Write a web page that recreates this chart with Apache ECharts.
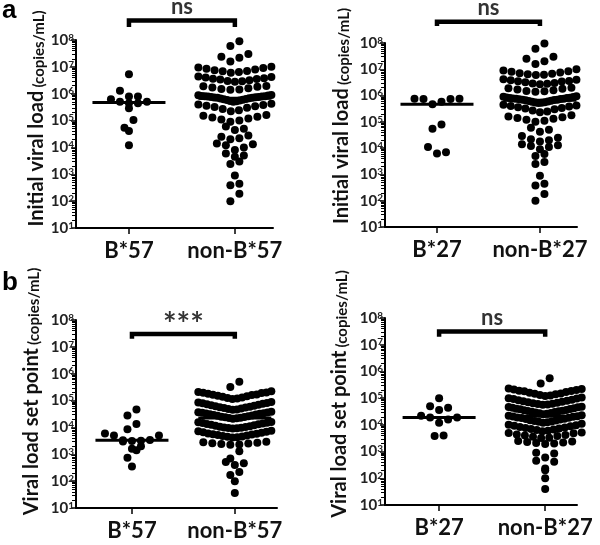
<!DOCTYPE html>
<html>
<head>
<meta charset="utf-8">
<script src="https://cdn.jsdelivr.net/npm/echarts@6/dist/echarts.min.js"></script>
<style>
  html, body { margin: 0; background: #fff; }
  #main { width: 600px; height: 545px; }
</style>
</head>
<body>
<div id="main"></div>
<script>
// ---- data (copies/mL) ----
const initialB57 = [5.3e6, 1.3e6, 7.8e5, 7.8e5, 6.2e5, 5e5, 5e5, 4.4e5, 4.4e5, 2.9e5, 1.05e5, 5.4e4, 4.1e4, 1.2e4];
const initialNonB57 = [
  9e7, 6e7,
  3e7, 2.4e7, 2.2e7, 1.6e7,
  1e7, 9.5e6, 9e6, 8.5e6, 8e6, 7.5e6, 7e6, 6.8e6, 6.5e6, 6e6,
  4.4e6, 4.2e6, 4e6, 3.8e6, 3.6e6, 3.5e6, 3.4e6, 3.2e6, 3e6, 2.9e6, 2.8e6,
  1.95e6, 1.9e6, 1.8e6, 1.7e6, 1.6e6, 1.5e6, 1.45e6, 1.4e6,
  9e5, 8.8e5, 8.5e5, 8.2e5, 8e5, 8e5, 7.8e5, 7.8e5, 7.6e5, 7.5e5, 7.4e5, 7.2e5,
  7e5, 7e5, 6.8e5, 6.6e5, 6.4e5, 6.2e5, 6e5, 5.8e5, 5.6e5, 5.4e5, 5.2e5, 5e5,
  4.2e5, 4e5, 3.8e5, 3.6e5, 3.4e5, 3.2e5, 3e5, 2.7e5, 2.4e5, 2.2e5,
  1.6e5, 1.5e5, 1.4e5, 1.3e5, 1.2e5, 1.1e5, 1e5, 9e4,
  6e4, 5e4, 4.5e4,
  2.8e4, 2.5e4, 2.2e4, 2e4,
  1.4e4, 1.3e4, 1.2e4, 1e4, 8e3,
  6e3, 5e3, 4.5e3,
  3e3, 2.4e3,
  9e2,
  4.4e2, 3.9e2,
  1.9e2, 1e2
];
const initialB27 = [7.6e5, 7.6e5, 7.4e5, 7.4e5, 5.8e5, 4.7e5, 8e4, 5.5e4, 1.1e4, 7e3, 6.2e3];
const initialNonB27 = [
  9.5e7, 6e7,
  3e7, 2.5e7, 2e7, 1.6e7,
  1e7, 9e6, 8.5e6, 8e6, 7.5e6, 7e6, 6.8e6, 6.5e6, 6.2e6, 6e6,
  4.2e6, 4e6, 3.8e6, 3.6e6, 3.5e6, 3.4e6, 3.2e6, 3e6, 2.9e6, 2.8e6, 2.7e6,
  2e6, 1.9e6, 1.8e6, 1.7e6, 1.6e6, 1.5e6, 1.45e6, 1.4e6,
  9.5e5, 9e5, 8.8e5, 8.5e5, 8.2e5, 8e5, 8e5, 7.8e5, 7.6e5, 7.5e5, 7.4e5, 7.2e5,
  7e5, 7e5, 6.8e5, 6.6e5, 6.4e5, 6.2e5, 6e5, 5.8e5, 5.6e5, 5.4e5, 5.3e5, 5.2e5,
  4.5e5, 4.2e5, 4e5, 3.8e5, 3.6e5, 3.4e5, 3.2e5, 3e5, 2.7e5, 2.5e5, 2.3e5,
  1.8e5, 1.6e5, 1.5e5, 1.4e5, 1.3e5, 1.2e5, 1.1e5, 1e5,
  6e4, 5e4, 4.2e4,
  2.9e4, 2.5e4, 2.2e4, 2e4, 1.8e4,
  1.4e4, 1.3e4, 1.2e4, 1.1e4, 9e3,
  6e3, 5e3,
  3e3, 2.5e3,
  9e2,
  4.4e2, 3.8e2,
  1.8e2, 1e2
];
const setPointB57 = [4.7e4, 2.8e4, 1.35e4, 8.5e3, 6e3, 5e3, 5e3, 3.4e3, 3.3e3, 3.2e3, 3.1e3, 3e3, 2e3, 1.6e3, 1.4e3, 7.5e2, 3.5e2];
const setPointNonB57 = [
  5e5, 3.2e5,
  2.2e5, 2.1e5, 2e5, 1.95e5, 1.9e5, 1.8e5, 1.7e5, 1.65e5, 1.6e5, 1.5e5, 1.45e5, 1.4e5, 1.3e5, 1.25e5, 1.2e5, 1.15e5,
  8.9e4, 8.5e4, 8.2e4, 8e4, 7.6e4, 7.3e4, 7e4, 6.7e4, 6.4e4, 6.1e4, 5.9e4, 5.7e4, 5.5e4, 5.3e4, 5.1e4, 4.9e4, 4.7e4, 4.6e4,
  3.8e4, 3.7e4, 3.6e4, 3.5e4, 3.4e4, 3.3e4, 3.2e4, 3.1e4, 3e4, 2.9e4, 2.8e4, 2.7e4, 2.6e4, 2.5e4, 2.45e4, 2.4e4, 2.3e4, 2.25e4, 2.2e4, 2.1e4,
  1.6e4, 1.55e4, 1.5e4, 1.45e4, 1.4e4, 1.35e4, 1.3e4, 1.25e4, 1.2e4, 1.15e4, 1.1e4, 1.07e4, 1.04e4, 1e4, 9.8e3, 9.6e3, 9.4e3, 9.2e3,
  7.6e3, 7.2e3, 6.9e3, 6.6e3, 6.3e3, 6e3, 5.8e3, 5.6e3, 5.4e3, 5.2e3, 5e3, 4.8e3, 4.6e3, 4.5e3, 4.3e3, 4.2e3,
  2.9e3, 2.8e3, 2.7e3, 2.6e3, 2.5e3, 2.4e3, 2.3e3, 2.25e3,
  1.3e3, 7e2, 5.2e2, 4.6e2, 4e2, 2.2e2, 1.7e2, 1e2, 36
];
const setPointB27 = [1e5, 5e4, 4.4e4, 3.6e4, 2.2e4, 1.9e4, 1.9e4, 1.6e4, 1.2e4, 4e3, 3.8e3];
const setPointNonB27 = [
  5.6e5, 3.5e5,
  2.3e5, 2.2e5, 2.1e5, 2e5, 1.9e5, 1.85e5, 1.8e5, 1.7e5, 1.6e5, 1.5e5, 1.45e5, 1.4e5, 1.3e5, 1.25e5, 1.2e5,
  1.05e5, 1e5, 9.6e4, 9.2e4, 8.8e4, 8.4e4, 8e4, 7.6e4, 7.3e4, 7e4, 6.7e4, 6.4e4, 6.2e4, 6e4, 5.8e4, 5.6e4,
  4.8e4, 4.7e4, 4.6e4, 4.4e4, 4.2e4, 4e4, 3.9e4, 3.8e4, 3.6e4, 3.5e4, 3.4e4, 3.3e4, 3.2e4, 3.1e4, 3e4, 2.9e4, 2.8e4, 2.7e4, 2.6e4, 2.5e4,
  2.3e4, 2.2e4, 2.1e4, 2.05e4, 2e4, 1.9e4, 1.85e4, 1.8e4, 1.7e4, 1.65e4, 1.6e4, 1.5e4, 1.45e4, 1.4e4, 1.35e4, 1.3e4, 1.25e4, 1.2e4,
  1.1e4, 1e4, 9.6e3, 9.2e3, 8.8e3, 8.4e3, 8e3, 7.6e3, 7.3e3, 7e3, 6.7e3, 6.4e3, 6e3, 5.8e3,
  5.2e3, 5e3, 4.8e3, 4.4e3, 4.2e3, 4e3, 3.8e3, 3.6e3, 3.3e3, 3.2e3,
  2.5e3, 2.4e3, 2.3e3, 2.2e3, 2.1e3, 2e3, 1.9e3,
  9e2, 8.5e2, 6e2, 4.5e2, 4.2e2, 2.3e2, 2e2, 1e2, 40
];
const yTicks = [1e1, 1e2, 1e3, 1e4, 1e5, 1e6, 1e7, 1e8];
const significance = ['ns', 'ns', '***', 'ns'];

// ---- layout ----
const DOT = 8, STEP = 9, HALF_W = 36.5, ROW_DEC = 0.3;
const FONT = 'Lato';

const panels = [
  { cats: ['B*57', 'non-B*57'], values: [initialB57, initialNonB57], title: 'Initial viral load',
    grid: { left: 76, top: 40, width: 197, height: 188 }, xMin: 0.5, xMax: 2.36,
    bracket: [3.05e8, 5.3e8], nameGap: 29, namePad: 31 },
  { cats: ['B*27', 'non-B*27'], values: [initialB27, initialNonB27], title: 'Initial viral load',
    grid: { left: 385, top: 43, width: 192, height: 184 }, xMin: 0.495, xMax: 2.36,
    bracket: [4.4e8, 6.5e8], nameGap: 33, namePad: 38 },
  { cats: ['B*57', 'non-B*57'], values: [setPointB57, setPointNonB57], title: 'Viral load set point',
    grid: { left: 76, top: 320, width: 201, height: 188 }, xMin: 0.456, xMax: 2.41,
    bracket: [2e7, 3e7], nameGap: 34, namePad: 45 },
  { cats: ['B*27', 'non-B*27'], values: [setPointB27, setPointNonB27], title: 'Viral load set point',
    grid: { left: 385, top: 318, width: 192, height: 187 }, xMin: 0.49, xMax: 2.3,
    bracket: [2e7, 3.1e7], nameGap: 35, namePad: 35 }
];

const minorTicks = [];
for (let d = 1; d < 8; d++) {
  for (let m = 2; m <= 9; m++) minorTicks.push(m * Math.pow(10, d));
}

// group values into rows and spread each row around the centre (low values in the middle)
function swarm(values, center, unitPx) {
  const sorted = values.slice().sort((a, b) => b - a);
  const rows = [];
  let row = null;
  sorted.forEach(v => {
    if (!row || Math.log10(row[0]) - Math.log10(v) > ROW_DEC) {
      row = [];
      rows.push(row);
    }
    row.push(v);
  });
  const pts = [];
  rows.forEach(r => {
    const n = r.length;
    const step = n > 1 ? Math.min(STEP, 2 * HALF_W / (n - 1)) : 0;
    r.slice().sort((a, b) => a - b).forEach((v, i) => {
      let k;
      if (n % 2) k = i === 0 ? 0 : (i % 2 ? 1 : -1) * Math.ceil(i / 2);
      else k = (i % 2 ? 1 : -1) * (Math.floor(i / 2) + 0.5);
      pts.push([center + k * step / unitPx, v]);
    });
  });
  return pts;
}

function median(values) {
  const s = values.slice().sort((a, b) => a - b);
  const h = Math.floor(s.length / 2);
  return s.length % 2 ? s[h] : (s[h - 1] + s[h]) / 2;
}

const series = [];
panels.forEach((p, i) => {
  const unitPx = p.grid.width / (p.xMax - p.xMin);
  const pts = [];
  p.values.forEach((vals, g) => pts.push(...swarm(vals, g + 1, unitPx)));
  series.push({
    type: 'scatter', xAxisIndex: i, yAxisIndex: i, data: pts, symbolSize: DOT,
    itemStyle: { color: '#000', opacity: 1, borderWidth: 0 }, clip: false, z: 2, silent: true
  });
  const hw = HALF_W / unitPx;
  p.values.forEach((vals, g) => {
    const m = median(vals);
    series.push({
      type: 'line', xAxisIndex: i, yAxisIndex: i,
      data: [[g + 1 - hw, m], [g + 1 + hw, m]],
      symbol: 'none', lineStyle: { color: '#000', width: 3 }, z: 3, silent: true
    });
  });
  const [lo, hi] = p.bracket;
  const stars = significance[i] === '***';
  series.push({
    type: 'line', xAxisIndex: i, yAxisIndex: i,
    data: [[1, lo], [1, hi], [2, hi], [2, lo]],
    symbol: 'none', clip: false, lineStyle: { color: '#000', width: 4.5, join: 'miter' }, z: 3, silent: true
  });
  series.push({
    type: 'scatter', xAxisIndex: i, yAxisIndex: i, data: [[1.5, hi]],
    symbolSize: 1, itemStyle: { color: 'rgba(0,0,0,0)' }, clip: false, silent: true,
    label: {
      show: true, position: 'top', distance: stars ? -8 : 2, formatter: significance[i],
      fontFamily: FONT, fontWeight: 'bold', fontSize: stars ? 32 : 22, color: '#000'
    }
  });
});

// each panel gets a twin grid carrying the minor log ticks and the axis title
const grids = panels.map(p => Object.assign({ outerBoundsMode: 'none' }, p.grid));
const option = {
  animation: false,
  textStyle: { fontFamily: FONT },
  grid: grids.concat(grids.map(g => Object.assign({}, g))),
  xAxis: panels.map((p, i) => ({
    type: 'value', gridIndex: i, min: p.xMin, max: p.xMax,
    axisLine: { show: true, onZero: false, lineStyle: { color: '#000', width: 2 } },
    axisTick: { show: true, customValues: [1, 2], length: 6, lineStyle: { color: '#000', width: 1.5 } },
    axisLabel: {
      customValues: [1, 2], formatter: v => p.cats[Math.round(v) - 1], margin: 12,
      fontFamily: FONT, fontWeight: 'bold', fontSize: 22, color: '#111'
    },
    splitLine: { show: false }
  })).concat(panels.map((p, i) => ({
    type: 'value', gridIndex: 4 + i, min: p.xMin, max: p.xMax, show: false
  }))),
  yAxis: panels.map((p, i) => ({
    type: 'log', logBase: 10, gridIndex: i, min: 10, max: 1e8, position: 'left',
    axisLine: { show: true, lineStyle: { color: '#000', width: 2 } },
    axisTick: { show: true, customValues: yTicks, length: 5, lineStyle: { color: '#000', width: 1.5 } },
    axisLabel: {
      customValues: yTicks, margin: 2,
      formatter: v => '{b|10}{e|' + Math.round(Math.log10(v)) + '}',
      rich: {
        b: { fontFamily: FONT, fontWeight: 'bold', fontSize: 15, color: '#222' },
        e: { fontFamily: FONT, fontWeight: 'bold', fontSize: 10, color: '#222', verticalAlign: 'top' }
      }
    },
    splitLine: { show: false }
  })).concat(panels.map((p, i) => ({
    type: 'log', logBase: 10, gridIndex: 4 + i, min: 10, max: 1e8, position: 'left',
    axisLine: { show: false },
    axisTick: { show: true, customValues: minorTicks, length: 4, lineStyle: { color: '#000', width: 1 } },
    axisLabel: { show: false },
    splitLine: { show: false },
    name: '{t|' + p.title + '} {s|(copies/mL)}',
    nameLocation: 'middle', nameRotate: 90, nameGap: p.nameGap,
    nameTextStyle: {
      padding: [0, 0, 0, p.namePad],
      rich: {
        t: { fontFamily: FONT, fontWeight: 'bold', fontSize: 20, color: '#111', verticalAlign: 'bottom' },
        s: { fontFamily: FONT, fontWeight: 'bold', fontSize: 15, color: '#111', verticalAlign: 'bottom' }
      }
    }
  }))),
  series: series,
  graphic: [
    { type: 'text', left: 2, top: -2, style: { text: 'a', font: 'bold 26px "Liberation Sans"', fill: '#000' } },
    { type: 'text', left: 2, top: 270, style: { text: 'b', font: 'bold 26px "Liberation Sans"', fill: '#000' } }
  ]
};

const chart = echarts.init(document.getElementById('main'), null, { renderer: 'canvas' });
chart.setOption(option);
</script>
</body>
</html>
